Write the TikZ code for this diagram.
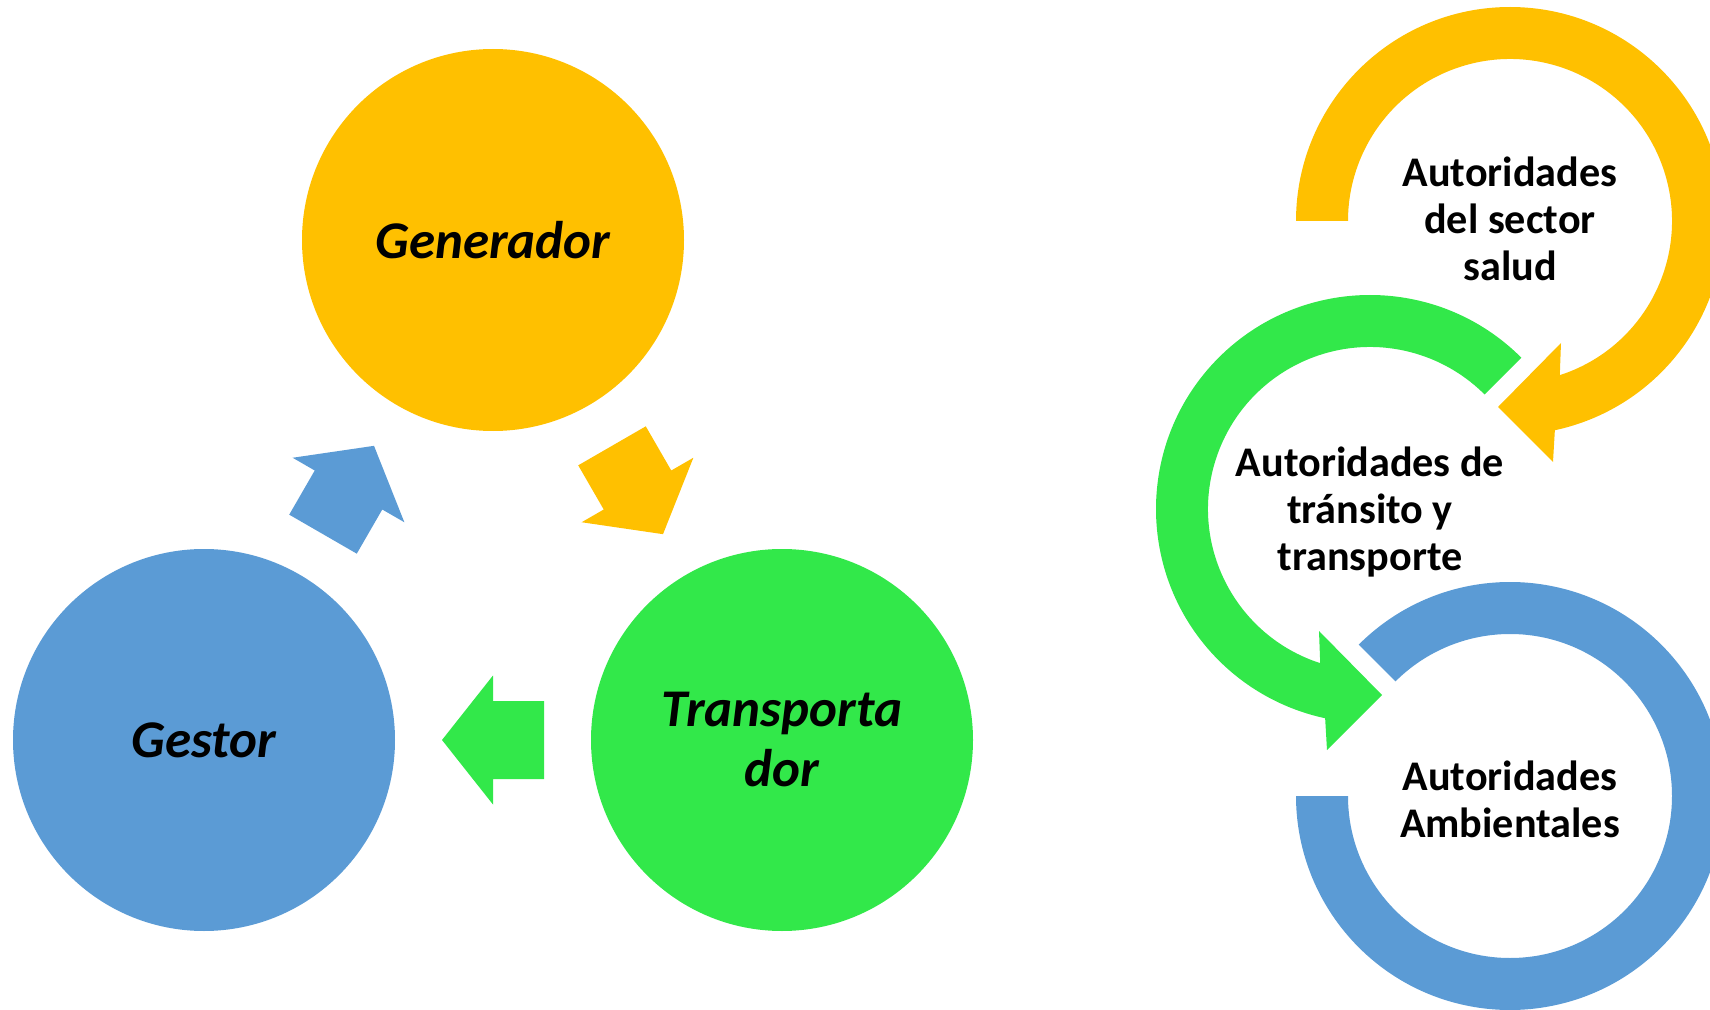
\documentclass[tikz,border=0pt]{standalone}
\usepackage{fontspec}
\setmainfont{Carlito}
\usetikzlibrary{calc}
\definecolor{amarillo}{RGB}{255,192,0}
\definecolor{verde}{RGB}{50,232,74}
\definecolor{azul}{RGB}{91,155,213}
\begin{document}
\begin{tikzpicture}[x=0.5pt,y=0.5pt]
            \tikzstyle{big node}=[circle,inner sep=0,minimum size=191pt,align=center,font=\fontsize{26.5}{30}\selectfont\bfseries\itshape]
            \tikzstyle{ring label}=[align=center,font=\fontsize{21.1}{23.4}\selectfont\bfseries]

            \useasboundingbox (0,0) rectangle (1710,1009);
            \clip (0,0) rectangle (1710,1009);

            \node(gen)[big node,fill=amarillo] at (493,769) {Generador};
            \node(gest)[big node,fill=azul] at (204,269) {Gestor};
            \node(trans)[big node,fill=verde] at (782,269) {Transporta\\dor};

            \foreach \a/\b/\ang/\col in {gest/gen/60/azul,gen/trans/-60/amarillo,trans/gest/180/verde}
            \fill[\col,shift={($(\a)!0.5!(\b)$)},rotate=\ang] (-51,-39) -- (0,-39) -- (0,-64.5) -- (51,0)
            -- (0,64.5) -- (0,39) -- (-51,39) -- cycle;

            \coordinate(salud c) at (1510,788);
            \coordinate(transito c) at (1370,500);
            \coordinate(ambiental c) at (1510,213);

            \fill[amarillo,shift={(salud c)}] (180:214) arc[start angle=180,end angle=-77.9,radius=214]
            -- (43,-241) -- (-12,-186) -- (51,-122) -- (-72.1:162)
            arc[start angle=-72.1,end angle=180,radius=162] -- cycle;
            \fill[verde,shift={(transito c)}] (45:214) arc[start angle=45,end angle=257.9,radius=214]
            -- (-43,-241) -- (12,-186) -- (-51,-122) -- (252.1:162)
            arc[start angle=252.1,end angle=45,radius=162] -- cycle;
            \fill[azul,shift={(ambiental c)}] (135:214) arc[start angle=135,end angle=-180,radius=214]
            -- (180:162) arc[start angle=180,end angle=495,radius=162] -- cycle;

            \node(salud)[ring label] at ($(salud c)+(0,2)$) {Autoridades\\del sector\\salud};
            \node(transito)[ring label] at ($(transito c)+(0,-3)$) {Autoridades de\\tránsito y\\transporte};
            \node(ambiental)[ring label] at ($(ambiental c)+(0,-3)$) {Autoridades\\Ambientales};
\end{tikzpicture}
\end{document}
